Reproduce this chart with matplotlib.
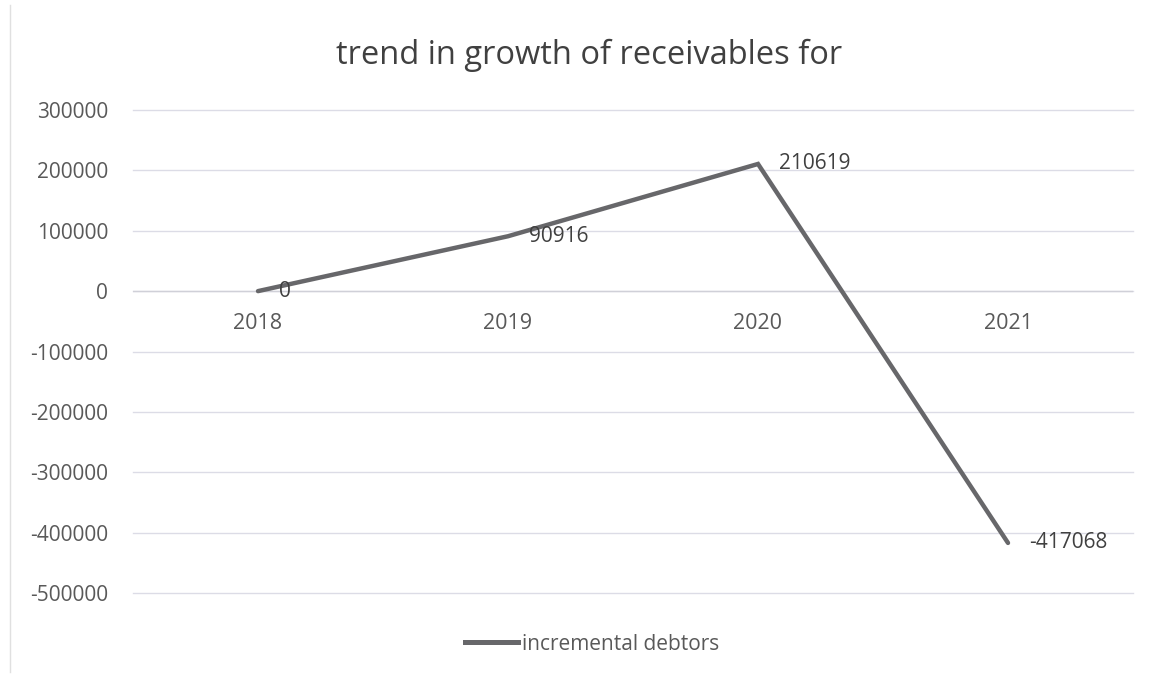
import matplotlib
matplotlib.use("Agg")
import matplotlib.pyplot as plt
from matplotlib.lines import Line2D

years = ["2018", "2019", "2020", "2021"]
incremental_debtors = [0, 90916, 210619, -417068]
y_ticks = [300000, 200000, 100000, 0, -100000, -200000, -300000, -400000, -500000]

plt.rcParams['font.family'] = ['Open Sans', 'DejaVu Sans']
text_col = "#595959"
line_col = "#67676a"
fs = 15

fig = plt.figure(figsize=(11.55, 6.77), dpi=100)
ax = fig.add_axes([133/1155, 1-593/677, 1000/1155, (593-110)/677])

x = list(range(len(years)))
ax.plot(x, incremental_debtors, color=line_col, lw=3.2, solid_capstyle='round',
        solid_joinstyle='miter', zorder=3)

for xi, v in zip(x, incremental_debtors):
    ax.annotate(f"{v}", (xi, v), xytext=(15, 0), textcoords='offset points',
                ha='left', va='center', fontsize=fs, color="#404040", zorder=4)

ax.set_xlim(-0.5, len(years) - 0.5)
ax.set_ylim(-500000, 300000)
ax.set_yticks(y_ticks)
ax.set_yticklabels([str(t) for t in y_ticks])
ax.yaxis.grid(True, color="#dcdce6", lw=1)
for gl in ax.get_ygridlines():
    gl.set_clip_on(False)
ax.set_axisbelow(True)
ax.tick_params(axis='y', length=0, pad=18, labelsize=fs, labelcolor=text_col)
ax.set_xticks([])
for s in ax.spines.values():
    s.set_visible(False)
ax.axhline(0, color="#d0d0d8", lw=1, zorder=1)

for xi, yr in zip(x, years):
    ax.annotate(yr, (xi, 0), xytext=(0, -23), textcoords='offset points',
                ha='center', va='center', fontsize=15.5, color=text_col)

fig.text(589/1155, 1-55/677, "trend in growth of receivables for", ha='center',
         va='center', fontsize=23.5, color="#404040")

fig.add_artist(Line2D([10/1155, 10/1155], [1-5/677, 1-672/677], color="#e0e0e0", lw=1))

handle = Line2D([], [], color=line_col, lw=3.6)
fig.legend([handle], ["incremental debtors"], loc='center', bbox_to_anchor=(592/1155, 1-644/677),
           frameon=False, fontsize=fs, labelcolor=text_col, handlelength=2.55,
           handletextpad=0.2)

fig.savefig("out.png", dpi=100, facecolor="white")
